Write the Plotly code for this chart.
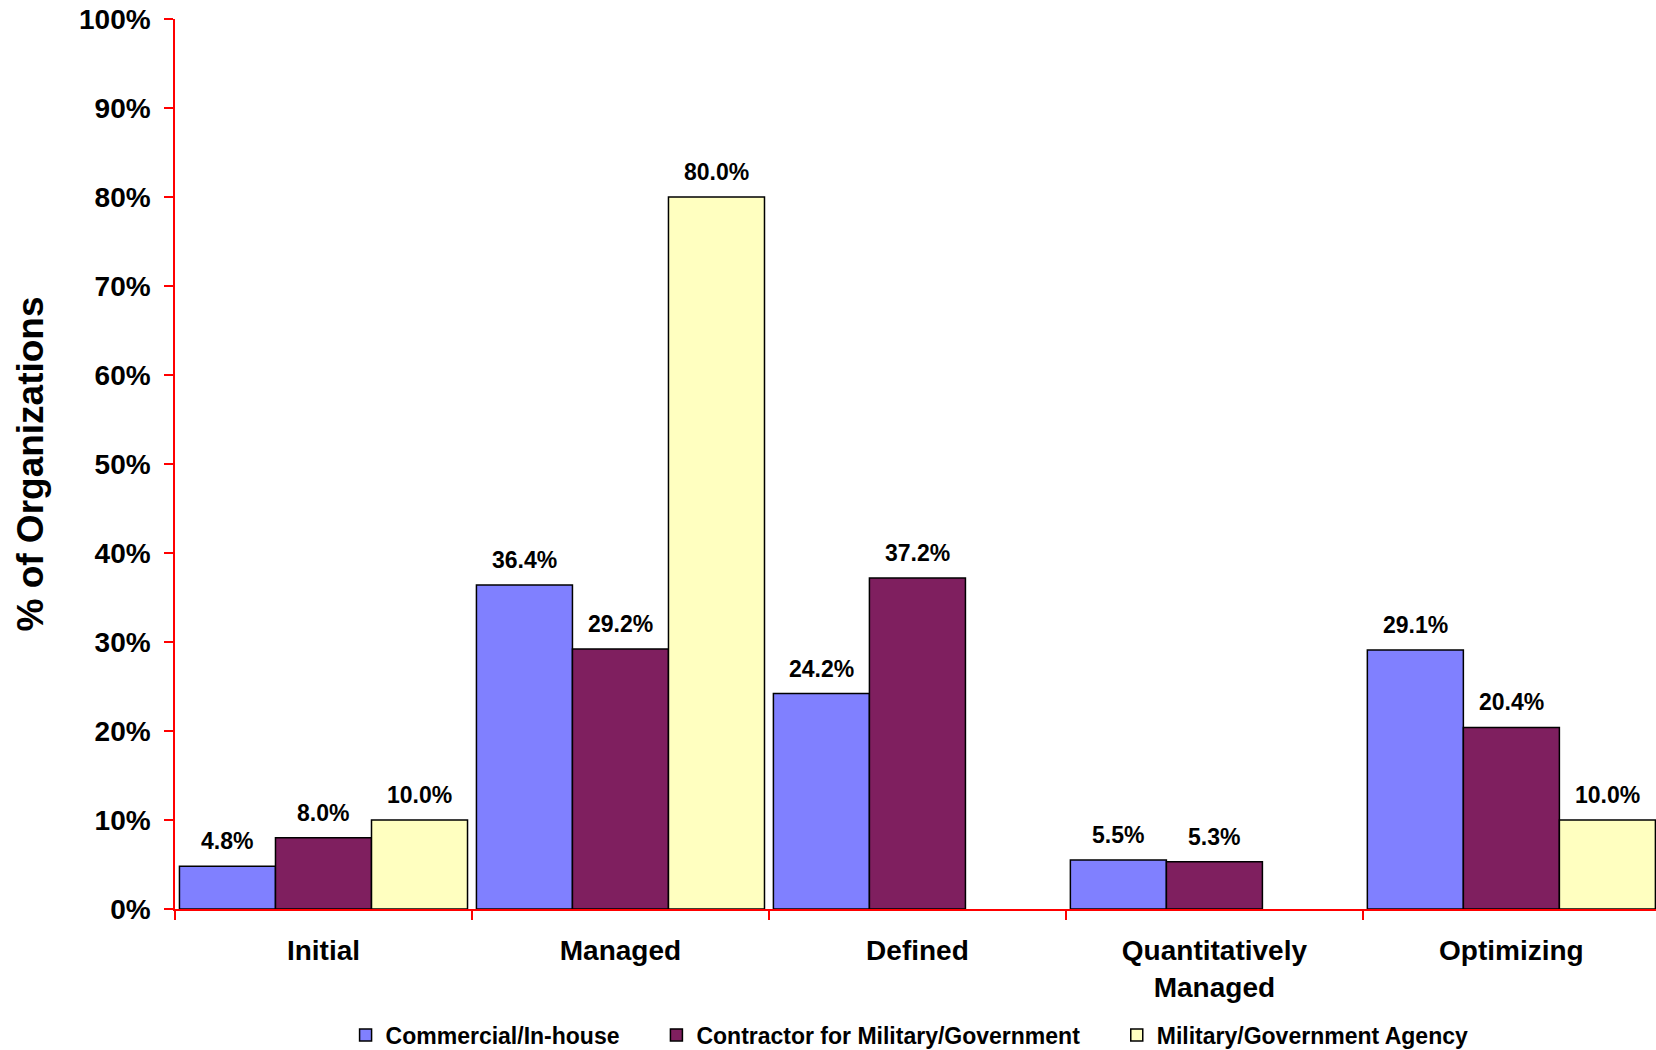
import plotly.graph_objects as go

categories = ["Initial", "Managed", "Defined", "Quantitatively<br>Managed", "Optimizing"]
series_names = ["Commercial/In-house", "Contractor for Military/Government", "Military/Government Agency"]
commercial = [4.8, 36.4, 24.2, 5.5, 29.1]
contractor = [8.0, 29.2, 37.2, 5.3, 20.4]
agency = [10.0, 80.0, None, None, 10.0]
y_ticks = [0, 10, 20, 30, 40, 50, 60, 70, 80, 90, 100]

series_values = [commercial, contractor, agency]
colors = ["#8080FF", "#7F1F5F", "#FFFFC0"]
legend_pad = ["\u00a0" * 5, "\u00a0" * 5, ""]

BARGAP = 0.03
FONT = "Liberation Sans, Arial, sans-serif"

fig = go.Figure()
idx = list(range(len(categories)))
for name, vals, col, pad in zip(series_names, series_values, colors, legend_pad):
    fig.add_trace(go.Bar(
        x=idx, y=vals, name=name + pad,
        marker=dict(color=col, line=dict(color="#000000", width=1.5)),
    ))

# data labels above bars
n = len(series_values)
w = (1 - BARGAP) / n
for j, vals in enumerate(series_values):
    for i, v in enumerate(vals):
        if v is None:
            continue
        fig.add_annotation(
            x=i + (j - (n - 1) / 2) * w, y=v, xref="x", yref="y",
            text=f"{v:.1f}%", showarrow=False, yanchor="bottom", yshift=10,
            font=dict(family=FONT, size=23, color="#000000", weight="bold"),
        )

fig.update_layout(
    width=1656, height=1050,
    margin=dict(l=175, r=0, t=19, b=141, autoexpand=False),
    paper_bgcolor="white", plot_bgcolor="white",
    barmode="group", bargap=BARGAP, bargroupgap=0,
    font=dict(family=FONT, color="#000000"),
    showlegend=True,
    legend=dict(
        orientation="h", x=0.496, xanchor="center", y=-0.1415, yanchor="middle",
        font=dict(family=FONT, size=23, color="#000000", weight="bold"),
        bgcolor="rgba(0,0,0,0)",
    ),
)

fig.update_xaxes(
    type="linear",
    range=[-0.5, 4.487],
    tickmode="array", tickvals=idx, ticktext=categories,
    showline=True, linecolor="#FF0000", linewidth=1.5,
    ticks="", showgrid=False, zeroline=False,
    tickfont=dict(family=FONT, size=28, color="#000000", weight="bold"),
    ticklabelstandoff=16,
    automargin=False,
)
# category boundary ticks via minor ticks
fig.update_xaxes(minor=dict(tickmode="array", tickvals=[i - 0.5 for i in idx],
                            ticks="outside", ticklen=9, tickcolor="#FF0000", tickwidth=1.5))

fig.update_yaxes(
    range=[0, 100],
    tickmode="array", tickvals=y_ticks, ticktext=[f"{t}%" for t in y_ticks],
    showline=True, linecolor="#FF0000", linewidth=1.5,
    ticks="outside", ticklen=9, tickcolor="#FF0000", tickwidth=1.5,
    showgrid=False, zeroline=False,
    tickfont=dict(family=FONT, size=28, color="#000000", weight="bold"),
    ticklabelstandoff=8,
    ticklabeloverflow="allow",
    title=dict(text="% of Organizations", standoff=24,
               font=dict(family=FONT, size=37, color="#000000", weight="bold")),
    automargin=False,
)

fig.write_html("out.html", config={"displayModeBar": False},
               post_script="document.body.style.margin='0px';")
